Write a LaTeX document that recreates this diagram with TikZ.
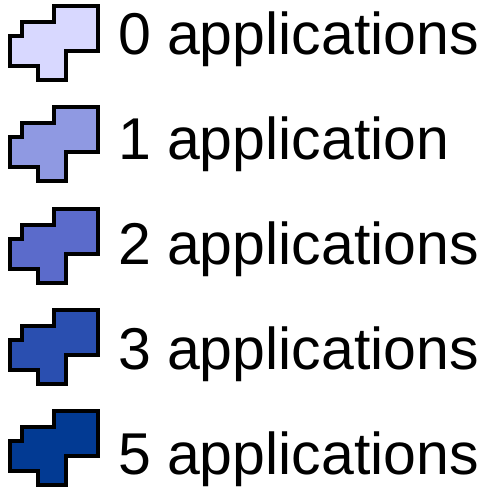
\documentclass[tikz,border=0pt]{standalone}
\usepackage{fontspec}
\setmainfont{Liberation Sans}
\definecolor{c0}{HTML}{D8D8FF}
\definecolor{c1}{HTML}{8F99E2}
\definecolor{c2}{HTML}{5B6BCB}
\definecolor{c3}{HTML}{2A4FB0}
\definecolor{c5}{HTML}{023A93}
\tikzset{
  icon/.style={draw=black, line width=4pt, miter limit=10},
  lbl/.style={anchor=base west, inner sep=0pt, outer sep=0pt, font=\fontsize{59}{70}\selectfont}
}
\begin{document}
\begin{tikzpicture}[x=1pt,y=-1pt]
\useasboundingbox (0,0) rectangle (500,490);
\foreach \i/\col/\txt in {0/c0/0 applications, 1/c1/1 application, 2/c2/2 applications, 3/c3/3 applications, 4/c5/5 applications}{
  \pgfmathsetmacro{\t}{6+101.3*\i}
  \pgfmathsetmacro{\b}{54+105*\i}
  \begin{scope}[yshift={-\t pt}]
    \path[icon, fill=\col] (54,0) -- (98,0) -- (98,45) -- (66,45) -- (66,74) -- (38,74) -- (38,60) -- (10,60) -- (10,30) -- (22,30) -- (22,16) -- (54,16) -- cycle;
  \end{scope}
  \node[lbl] (label\i) at (118,\b) {\txt};
}
\end{tikzpicture}
\end{document}
